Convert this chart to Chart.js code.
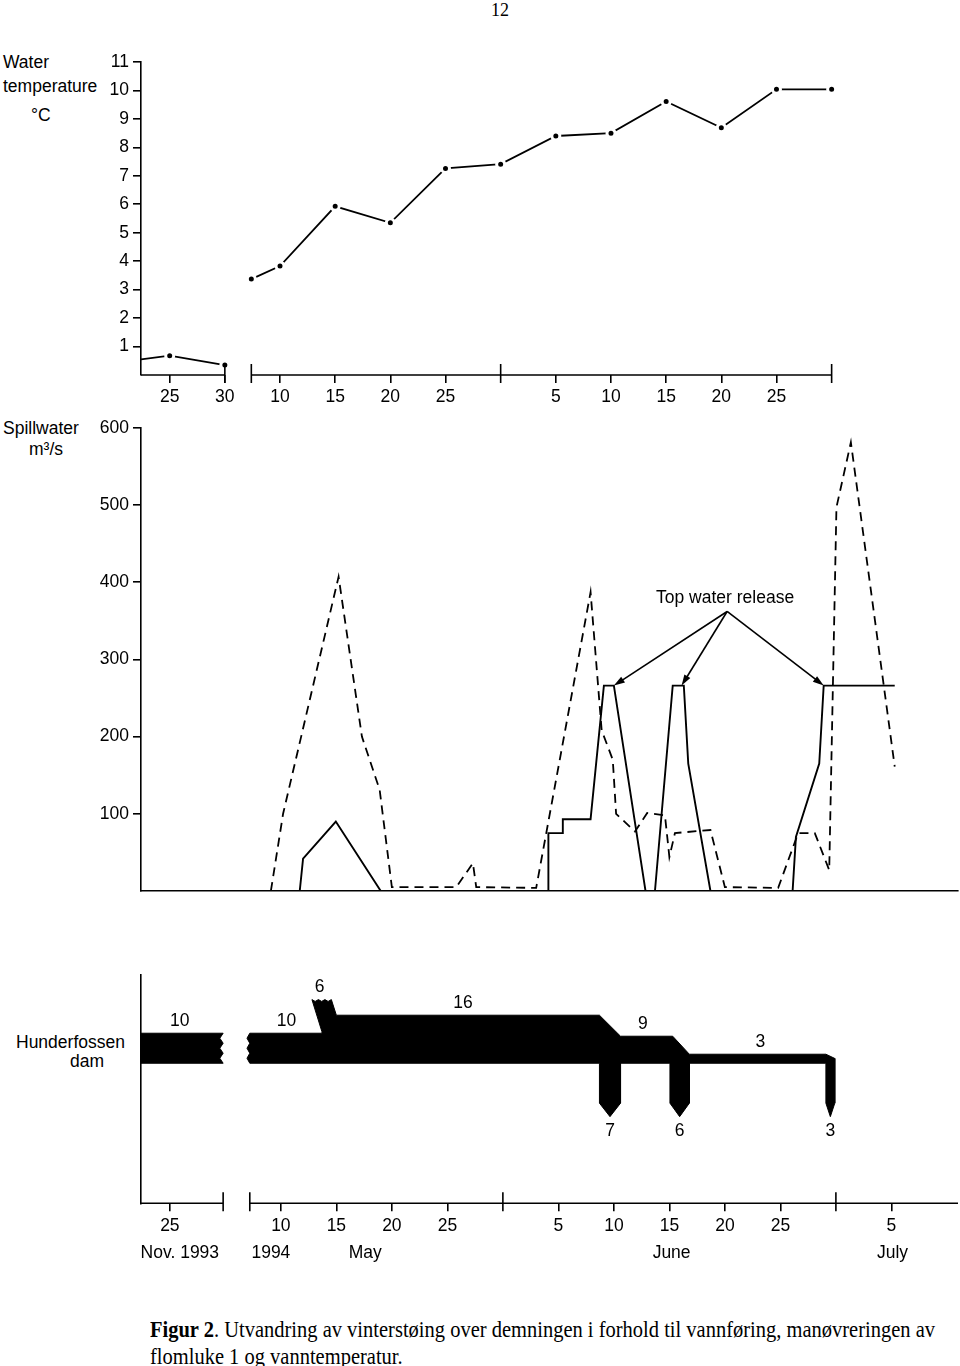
<!DOCTYPE html>
<html>
<head>
<meta charset="utf-8">
<script src="https://cdn.jsdelivr.net/npm/chart.js@4.4.1/dist/chart.umd.min.js"></script>
<style>
  body { margin: 0; background: #fff; width: 960px; height: 1366px; position: relative; overflow: hidden;
         font-family: "Liberation Sans", Arial, sans-serif; color: #000; }
  canvas { position: absolute; left: 0; width: 960px; }
  .lbl { position: absolute; font-size: 17.5px; line-height: 20px; white-space: nowrap; }
  #page { position: absolute; top: 0; left: 450px; width: 100px; text-align: center; line-height: 20px;
          font-family: "Liberation Serif", serif; font-size: 18px; }
  #caption { position: absolute; left: 150px; top: 1316px; font-family: "Liberation Serif", serif; font-size: 23px;
             line-height: 27px; white-space: nowrap; transform-origin: left top; display: inline-block; }
</style>
</head>
<body>
<div id="page">12</div>

<div class="lbl" style="left:3px; top:52px">Water</div>
<div class="lbl" style="left:3px; top:76px">temperature</div>
<div class="lbl" style="left:31px; top:105px">°C</div>
<div class="lbl" style="left:3px; top:418px">Spillwater</div>
<div class="lbl" style="left:29px; top:439px">m³/s</div>
<div class="lbl" style="left:16px; top:1032px">Hunderfossen</div>
<div class="lbl" style="left:70px; top:1051px">dam</div>

<canvas id="tempChart" width="960" height="420" style="top:0; height:420px"></canvas>
<canvas id="spillChart" width="960" height="520" style="top:400px; height:520px"></canvas>
<canvas id="damChart" width="960" height="340" style="top:940px; height:340px"></canvas>

<div id="caption"><b>Figur 2</b>. Utvandring av vinterstøing over demningen i forhold til vannføring, manøvreringen av<br>flomluke 1 og vanntemperatur.</div>

<script>
// days on the x axis: Nov 25 = 0, May d = d, June d = 30 + d, July d = 60 + d
const X_MIN = -2.6, X_MAX = 71;

// vanntemperatur
const novDays = [-2.6, 0, 5];
const novTemp = [0.55, 0.68, 0.35];
const springDays = [7.4, 10, 15, 20, 25, 30, 35, 40, 45, 50, 55, 60];
const springTemp = [3.37, 3.83, 5.93, 5.35, 7.26, 7.41, 8.40, 8.50, 9.61, 8.69, 10.04, 10.04];
const tempTicks = [1, 2, 3, 4, 5, 6, 7, 8, 9, 10, 11];
const tempDayTicks = [0, 5, 10, 15, 20, 25, 35, 40, 45, 50, 55];

// vannføring over dammen (stiplet) og flomluke 1 (heltrukket)
const totalDays = [9.1, 10.2, 15.2, 17.3, 18.9, 20.0, 25.8, 27.3, 27.6, 33.0, 37.9, 38.9, 39.9, 40.2, 41.9,
                   43.0, 44.6, 45.0, 45.5, 48.7, 50.0, 54.8, 56.6, 58.1, 59.4, 60.05, 61.35, 65.3];
const totalFlow = [0, 100, 407, 200, 131, 5, 5, 36, 5, 4, 387, 208, 170, 100, 77,
                   101, 98, 44, 75, 79, 5, 4, 75, 75, 27, 497, 581, 161];
const gateDays = [-2.6, 11.7, 12.0, 14.95, 19.0, 34.1, 34.1, 35.4, 35.4, 37.9, 39.1, 40.0, 42.85, 43.7,
                  45.3, 46.3, 46.7, 48.7, 56.1, 56.4, 58.5, 58.9, 65.3];
const gateFlow = [0, 0, 42, 90, 0, 0, 75, 75, 93, 93, 266, 266, 0, 0,
                  266, 266, 165, 0, 0, 70, 165, 266, 266];
const spillTicks = [100, 200, 300, 400, 500, 600];
const noteDay = 50.2, noteFlow = 362;              // "Top water release"
const noteTargetDays = [40.0, 46.1, 58.9];
const noteTargetFlow = [266, 266, 266];

// Hunderfossen dam: antall fisk over dammen, og fisk som gikk ut (piler)
const damFrom = [-2.6, 7.2, 15.0, 40.6, 46.8];
const damTo = [4.8, 13.7, 38.7, 45.3, 59.1];
const damFish = [10, 10, 16, 9, 3];
const inflowDays = [13.7, 12.8, 14.55, 15.0];
const inflowLevel = [10.5, 21.2, 21.2, 16];
const releaseFrom = [38.7, 45.05, 59.1];
const releaseTo = [40.6, 46.8, 59.9];
const releaseFish = [7, 6, 3];
const damLabelDays = [0.9, 10.5, 13.5, 26.4, 42.6, 53.2];
const damLabelLevel = [10, 10, 21.2, 16, 9, 3];
const damLabelText = ['10', '10', '6', '16', '9', '3'];
const damDayTicks = [0, 10, 15, 20, 25, 35, 40, 45, 50, 55, 65];
const monthNames = ['Nov. 1993', '1994', 'May', 'June', 'July'];
const monthDays = [0.9, 9.1, 17.6, 45.2, 65.1];

const ARROW_BODY = 13.3, ARROW_TIP = 17.8;
const FONT = '"Liberation Sans", Arial, sans-serif';

Chart.defaults.font.family = FONT;
Chart.defaults.font.size = 17.5;
Chart.defaults.color = '#000';

function dayLabel(v) {
    if (v <= 5) return String(v + 25);
    if (v <= 30) return String(v);
    if (v <= 60) return String(v - 30);
    return String(v - 60);
}

function pts(xs, ys) {
    return xs.map((x, i) => ({ x: x, y: ys[i] }));
}

// x axis with a break, and the long ticks at month ends
function brokenAxis(segments, longTicks) {
    return {
        id: 'brokenAxis',
        afterDraw(chart) {
            const { ctx, chartArea, scales: { x } } = chart;
            const y0 = chartArea.bottom;
            ctx.save();
            ctx.strokeStyle = '#000';
            ctx.lineWidth = 1.6;
            ctx.beginPath();
            segments.forEach(([a, b]) => {
                ctx.moveTo(x.getPixelForValue(a), y0);
                ctx.lineTo(x.getPixelForValue(b), y0);
            });
            longTicks.forEach(v => {
                const px = x.getPixelForValue(v);
                ctx.moveTo(px, y0 - 11);
                ctx.lineTo(px, y0 + 8);
            });
            ctx.stroke();
            ctx.restore();
        }
    };
}

function yAxis(min, max, ticks) {
    return {
        type: 'linear', min: min, max: max,
        afterFit: s => { s.width = 141; },
        afterBuildTicks: s => { s.ticks = ticks.map(v => ({ value: v })); },
        ticks: { padding: 4, display: ticks.length > 0 },
        grid: { display: ticks.length > 0, drawOnChartArea: false, tickLength: 8, color: '#000', lineWidth: 1.6 },
        border: { display: true, color: '#000', width: 1.6 }
    };
}

function xAxis(height, ticks, showBorder) {
    return {
        type: 'linear', min: X_MIN, max: X_MAX,
        afterFit: s => { s.height = height; },
        afterBuildTicks: s => { s.ticks = ticks.map(v => ({ value: v })); },
        ticks: { display: ticks.length > 0, padding: 4, autoSkip: false, maxRotation: 0, callback: v => dayLabel(v) },
        grid: { display: ticks.length > 0, drawOnChartArea: false, tickLength: 8, color: '#000', lineWidth: 1.6 },
        border: { display: showBorder, color: '#000', width: 1.6 }
    };
}

const common = {
    responsive: false,
    animation: false,
    events: [],
    plugins: { legend: { display: false }, tooltip: { enabled: false } }
};

// vanntemperatur
new Chart(document.getElementById('tempChart'), {
    type: 'line',
    data: {
        datasets: [{
            data: pts(novDays, novTemp),
            borderColor: '#000', borderWidth: 1.8,
            pointRadius: c => c.dataIndex === 0 ? 0 : 4,
            pointBackgroundColor: '#000', pointBorderColor: '#fff', pointBorderWidth: 3
        }, {
            data: pts(springDays, springTemp),
            borderColor: '#000', borderWidth: 1.8,
            pointRadius: 4,
            pointBackgroundColor: '#000', pointBorderColor: '#fff', pointBorderWidth: 3
        }]
    },
    options: Object.assign({}, common, {
        layout: { padding: { top: 62, right: 2, left: 0, bottom: 0 } },
        scales: {
            x: xAxis(45, tempDayTicks, false),
            y: yAxis(0, 11, tempTicks)
        }
    }),
    plugins: [brokenAxis([[X_MIN, 5], [7.4, 60]], [5, 7.4, 30, 60])]
});

// vannføring
const releaseNote = {
    id: 'releaseNote',
    afterDatasetsDraw(chart) {
        const { ctx, scales: { x, y } } = chart;
        const fx = x.getPixelForValue(noteDay), fy = y.getPixelForValue(noteFlow);
        ctx.save();
        ctx.fillStyle = '#000';
        ctx.strokeStyle = '#000';
        ctx.lineWidth = 1.6;
        ctx.font = '17.5px ' + FONT;
        ctx.textAlign = 'center';
        ctx.textBaseline = 'middle';
        ctx.fillText('Top water release', fx - 2, fy - 13);
        noteTargetDays.forEach((d, i) => {
            const tx = x.getPixelForValue(d), ty = y.getPixelForValue(noteTargetFlow[i]);
            const ang = Math.atan2(ty - fy, tx - fx);
            ctx.beginPath();
            ctx.moveTo(fx, fy);
            ctx.lineTo(tx - 6 * Math.cos(ang), ty - 6 * Math.sin(ang));
            ctx.stroke();
            ctx.beginPath();
            ctx.moveTo(tx, ty);
            ctx.lineTo(tx - 11 * Math.cos(ang) + 3.5 * Math.sin(ang), ty - 11 * Math.sin(ang) - 3.5 * Math.cos(ang));
            ctx.lineTo(tx - 11 * Math.cos(ang) - 3.5 * Math.sin(ang), ty - 11 * Math.sin(ang) + 3.5 * Math.cos(ang));
            ctx.closePath();
            ctx.fill();
        });
        ctx.restore();
    }
};

new Chart(document.getElementById('spillChart'), {
    type: 'line',
    data: {
        datasets: [{
            data: pts(totalDays, totalFlow),
            borderColor: '#000', borderWidth: 1.8, borderDash: [9, 6],
            pointRadius: 0
        }, {
            data: pts(gateDays, gateFlow),
            borderColor: '#000', borderWidth: 1.9,
            pointRadius: 0
        }]
    },
    options: Object.assign({}, common, {
        layout: { padding: { top: 27.7, right: 2, left: 0, bottom: 0 } },
        scales: {
            x: xAxis(29, [], true),
            y: yAxis(0, 600, spillTicks)
        }
    }),
    plugins: [releaseNote]
});

// Hunderfossen dam
function zigzag(x0, y0, x1, y1, off, n, horizontal) {
    const out = [];
    for (let i = 1; i < n; i++) {
        const t = i / n;
        const o = i % 2 ? off : 0;
        out.push(horizontal
            ? { x: x0 + (x1 - x0) * t, y: y0 + o }
            : { x: x0 + o, y: y0 + (y1 - y0) * t });
    }
    return out;
}

const novBand = [
    { x: damFrom[0], y: 0 }, { x: damFrom[0], y: damFish[0] }, { x: damTo[0], y: damFish[0] },
    ...zigzag(damTo[0], damFish[0], damTo[0], 0, -0.3, 6, false),
    { x: damTo[0], y: 0 }, { x: damFrom[0], y: 0 }
];

const mainBand = [{ x: damFrom[1], y: 0 }];
mainBand.push(...zigzag(damFrom[1], 0, damFrom[1], damFish[1], -0.25, 6, false));
mainBand.push({ x: damFrom[1], y: damFish[1] }, { x: damTo[1], y: damFish[1] });
mainBand.push({ x: inflowDays[0], y: inflowLevel[0] }, { x: inflowDays[1], y: inflowLevel[1] });
mainBand.push(...zigzag(inflowDays[1], inflowLevel[1], inflowDays[2], inflowLevel[2], -0.6, 6, true));
mainBand.push({ x: inflowDays[2], y: inflowLevel[2] }, { x: inflowDays[3], y: inflowLevel[3] });
for (let i = 2; i < damFrom.length; i++) {
    mainBand.push({ x: damFrom[i], y: damFish[i] }, { x: damTo[i], y: damFish[i] });
}
for (let i = releaseFrom.length - 1; i >= 0; i--) {
    const a = releaseFrom[i], b = releaseTo[i];
    mainBand.push({ x: b, y: i === releaseFrom.length - 1 ? 1.6 : 0 });
    mainBand.push({ x: b, y: -ARROW_BODY }, { x: (a + b) / 2, y: -ARROW_TIP }, { x: a, y: -ARROW_BODY }, { x: a, y: 0 });
}
mainBand.push({ x: damFrom[1], y: 0 });

const damNotes = {
    id: 'damNotes',
    afterDatasetsDraw(chart) {
        const { ctx, chartArea, scales: { x, y } } = chart;
        ctx.save();
        ctx.fillStyle = '#000';
        ctx.font = '17.5px ' + FONT;
        ctx.textAlign = 'center';
        ctx.textBaseline = 'middle';
        damLabelDays.forEach((d, i) => {
            ctx.fillText(damLabelText[i], x.getPixelForValue(d), y.getPixelForValue(damLabelLevel[i]) - 12);
        });
        releaseFish.forEach((n, i) => {
            ctx.fillText(String(n), x.getPixelForValue((releaseFrom[i] + releaseTo[i]) / 2), y.getPixelForValue(-ARROW_TIP) + 15);
        });
        monthNames.forEach((m, i) => {
            ctx.fillText(m, x.getPixelForValue(monthDays[i]), chartArea.bottom + 50);
        });
        ctx.restore();
    }
};

new Chart(document.getElementById('damChart'), {
    type: 'line',
    data: {
        datasets: [{
            data: novBand, fill: 'shape', backgroundColor: '#000',
            borderColor: '#000', borderWidth: 1, pointRadius: 0
        }, {
            data: mainBand, fill: 'shape', backgroundColor: '#000',
            borderColor: '#000', borderWidth: 1, pointRadius: 0
        }]
    },
    options: Object.assign({}, common, {
        layout: { padding: { top: 35, right: 2, left: 0, bottom: 0 } },
        scales: {
            x: xAxis(76.7, damDayTicks, false),
            y: yAxis(-46.67, 29.4, [])
        }
    }),
    plugins: [brokenAxis([[X_MIN, 4.8], [7.2, X_MAX]], [4.8, 7.2, 30, 60]), damNotes]
});

// fit the caption to the printed line width
const cap = document.getElementById('caption');
cap.style.transform = 'scaleX(' + (785 / cap.getBoundingClientRect().width) + ')';
</script>
</body>
</html>
